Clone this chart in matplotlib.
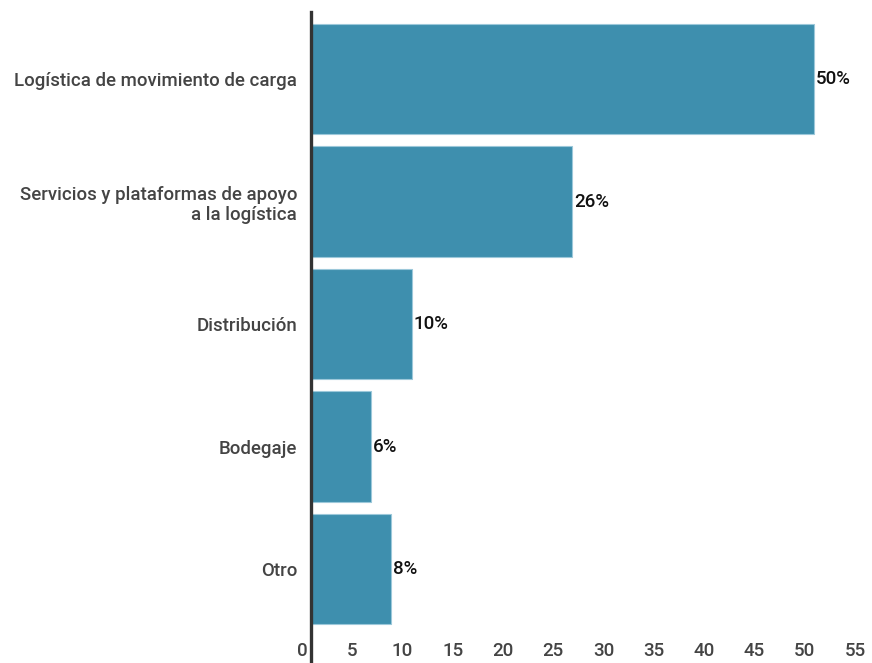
import matplotlib.pyplot as plt
import matplotlib.transforms as mtransforms

categorias = ['Logística de movimiento de carga',
              'Servicios y plataformas de apoyo\na la logística',
              'Distribución',
              'Bodegaje',
              'Otro']
porcentajes = [50, 26, 10, 6, 8]
ticks_x = [0, 5, 10, 15, 20, 25, 30, 35, 40, 45, 50, 55]

plt.rcParams['font.family'] = ['Roboto', 'DejaVu Sans']

W, H = 872, 663
fig = plt.figure(figsize=(W / 100, H / 100), dpi=100)
ax = fig.add_axes([311 / W, 0, (864 - 311) / W, 1 - 12 / H])

pos = range(len(categorias))
ax.barh(pos, porcentajes, height=0.9, color='#3e8fae',
        edgecolor='#9cc8da', linewidth=0.8)

for y, v in zip(pos, porcentajes):
    ax.text(v + 0.2, y, f'{v}%', va='center', ha='left',
            fontsize=13.5, fontweight='medium', color='#111111')

ax.set_xlim(0, 55)
ax.set_ylim(4.767, -0.547)
ax.set_yticks(list(pos))
ax.set_yticklabels(categorias, fontsize=13.4, fontweight='medium',
                   color='#444444', linespacing=1.15)
ax.set_xticks(ticks_x)
ax.set_xticklabels([str(t) for t in ticks_x], fontsize=13.5,
                   fontweight='medium', color='#444444')

ax.tick_params(axis='y', length=0, pad=10)
ax.tick_params(axis='x', length=0, pad=-15)
for lbl in ax.get_yticklabels():
    lbl.set_multialignment('right')

# shift the x tick labels a little to the left
off = mtransforms.ScaledTranslation(-9 / 100, 0, fig.dpi_scale_trans)
for lbl in ax.get_xticklabels():
    lbl.set_transform(lbl.get_transform() + off)

for s in ['top', 'right', 'bottom']:
    ax.spines[s].set_visible(False)
ax.spines['left'].set_color('#333333')
ax.spines['left'].set_linewidth(2.4)

fig.savefig('out.png', dpi=100)
